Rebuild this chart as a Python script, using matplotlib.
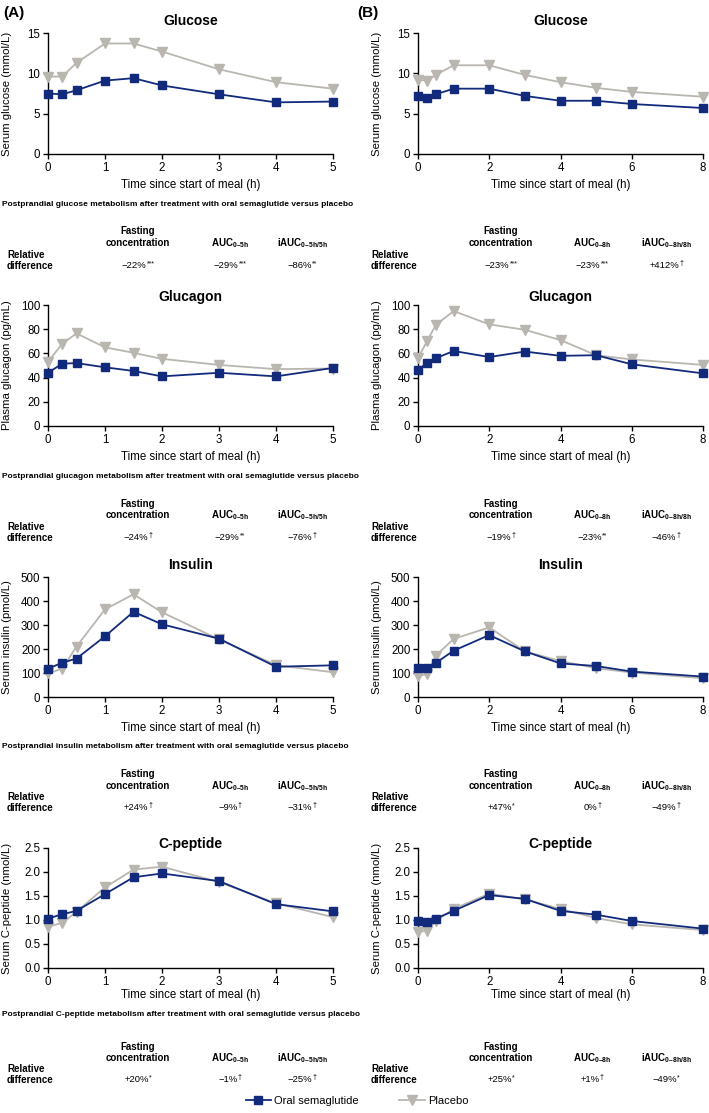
import matplotlib
matplotlib.use("Agg")
import matplotlib.pyplot as plt
from matplotlib.lines import Line2D

plt.rcParams['font.family'] = ['Liberation Sans', 'DejaVu Sans']
plt.rcParams['mathtext.fontset'] = 'custom'
plt.rcParams['mathtext.rm'] = 'Liberation Sans'
plt.rcParams['mathtext.bf'] = 'Liberation Sans:bold'

# ---------------- data ----------------
time_a = [0, 0.25, 0.5, 1, 1.5, 2, 3, 4, 5]
time_b = [0, 0.25, 0.5, 1, 2, 3, 4, 5, 6, 8]

glucose_sema_a = [7.5, 7.4, 7.9, 9.1, 9.4, 8.5, 7.4, 6.4, 6.5]
glucose_plac_a = [9.6, 9.6, 11.3, 13.7, 13.7, 12.7, 10.5, 8.9, 8.1]
glucose_sema_b = [7.2, 7.0, 7.4, 8.1, 8.1, 7.2, 6.6, 6.6, 6.2, 5.7]
glucose_plac_b = [9.2, 9.1, 9.8, 11.0, 11.0, 9.8, 8.9, 8.2, 7.7, 7.1]

glucagon_sema_a = [44, 51.5, 52, 48.5, 45.5, 41, 44, 41, 48]
glucagon_plac_a = [53, 68, 76.5, 65, 60.5, 55.5, 50.5, 47, 47.5]
glucagon_sema_b = [46.5, 52, 56, 62, 57, 61.5, 58, 58.5, 51, 43.5]
glucagon_plac_b = [56, 70, 83.5, 95, 84, 79.5, 71, 58.5, 55, 50.5]

insulin_sema_a = [118, 143, 160, 253, 355, 303, 243, 126, 132]
insulin_plac_a = [98, 118, 210, 365, 428, 353, 240, 133, 103]
insulin_sema_b = [120, 122, 142, 193, 258, 190, 140, 129, 106, 85]
insulin_plac_b = [88, 95, 172, 242, 290, 190, 150, 120, 102, 78]

cpep_sema_a = [1.03, 1.12, 1.19, 1.54, 1.89, 1.97, 1.81, 1.33, 1.18]
cpep_plac_a = [0.86, 0.94, 1.17, 1.68, 2.05, 2.11, 1.79, 1.35, 1.06]
cpep_sema_b = [0.97, 0.96, 1.03, 1.19, 1.52, 1.44, 1.19, 1.11, 0.98, 0.82]
cpep_plac_b = [0.76, 0.77, 0.98, 1.23, 1.55, 1.43, 1.23, 1.04, 0.91, 0.79]

titles = ["Glucose", "Glucagon", "Insulin", "C-peptide"]
ylabels = ["Serum glucose (mmol/L)", "Plasma glucagon (pg/mL)",
           "Serum insulin (pmol/L)", "Serum C-peptide (nmol/L)"]
yticks = [[0, 5, 10, 15], [0, 20, 40, 60, 80, 100],
          [0, 100, 200, 300, 400, 500], [0.0, 0.5, 1.0, 1.5, 2.0, 2.5]]
yfmt = ["{:g}", "{:g}", "{:g}", "{:.1f}"]
xticks_a = [0, 1, 2, 3, 4, 5]
xticks_b = [0, 2, 4, 6, 8]
captions = ["Postprandial glucose metabolism after treatment with oral semaglutide versus placebo",
            "Postprandial glucagon metabolism after treatment with oral semaglutide versus placebo",
            "Postprandial insulin metabolism after treatment with oral semaglutide versus placebo",
            "Postprandial C-peptide metabolism after treatment with oral semaglutide versus placebo"]

# (value, significance mark)
rel_a = [[("\u221222%", "***"), ("\u221229%", "***"), ("\u221286%", "**")],
         [("\u221224%", "\u2020"), ("\u221229%", "**"), ("\u221276%", "\u2020")],
         [("+24%", "\u2020"), ("\u22129%", "\u2020"), ("\u221231%", "\u2020")],
         [("+20%", "*"), ("\u22121%", "\u2020"), ("\u221225%", "\u2020")]]
rel_b = [[("\u221223%", "***"), ("\u221223%", "***"), ("+412%", "\u2020")],
         [("\u221219%", "\u2020"), ("\u221223%", "**"), ("\u221246%", "\u2020")],
         [("+47%", "*"), ("0%", "\u2020"), ("\u221249%", "\u2020")],
         [("+25%", "*"), ("+1%", "\u2020"), ("\u221249%", "*")]]

sema = [(glucose_sema_a, glucose_sema_b), (glucagon_sema_a, glucagon_sema_b),
        (insulin_sema_a, insulin_sema_b), (cpep_sema_a, cpep_sema_b)]
plac = [(glucose_plac_a, glucose_plac_b), (glucagon_plac_a, glucagon_plac_b),
        (insulin_plac_a, insulin_plac_b), (cpep_plac_a, cpep_plac_b)]

SEMA_C = "#122a7c"
PLAC_C = "#b9b6b0"

W, H = 709, 1113
fig = plt.figure(figsize=(W / 100, H / 100), dpi=100)
renderer = fig.canvas.get_renderer()

def fx(px):
    return px / W

def fy(py):
    return 1 - py / H

rows = [(33, 154), (305, 426), (577, 697), (848, 968)]
cols = [(48, 333), (418, 703)]
xlabel_y = [185, 457, 728, 995]
caption_y = [204, 476, 747, 1015]
head1_y = [231, 504, 774, 1047]
head2_y = [243, 515, 786, 1058]
rel1_y = [255, 527, 797, 1069]
rel2_y = [266, 538, 808, 1080]
title_y = [21, 297, 565, 844]

tab_cols = [(7, 138, 230, 302), (371, 501, 592, 666)]
auc_lbl = [("AUC$_{\\mathregular{0\u20135h}}$", "iAUC$_{\\mathregular{0\u20135h/5h}}$"),
           ("AUC$_{\\mathregular{0\u20138h}}$", "iAUC$_{\\mathregular{0\u20138h/8h}}$")]

HF = 7  # header font size
VF = 6.8  # value font size


def value_text(xc, y, base, sup):
    tb = fig.text(0, 0, base, fontsize=VF, ha='left', va='center')
    ts = fig.text(0, 0, sup, fontsize=VF * 0.75, ha='left', va='center')
    wb = tb.get_window_extent(renderer).width
    ws = ts.get_window_extent(renderer).width
    left = xc - (wb + ws) / 2
    tb.set_position((fx(left), fy(y)))
    ts.set_position((fx(left + wb + 0.3), fy(y - 2.5)))


for r in range(4):
    top, bot = rows[r]
    for c in range(2):
        l, rr = cols[c]
        ax = fig.add_axes([fx(l), fy(bot), fx(rr - l), (bot - top) / H])
        t = time_a if c == 0 else time_b
        ax.plot(t, plac[r][c], color=PLAC_C, marker='v', markersize=6.5, lw=1.3,
                clip_on=False, zorder=3)
        ax.plot(t, sema[r][c], color=SEMA_C, marker='s', markersize=6.3, lw=1.3,
                clip_on=False, zorder=4)
        ax.set_xlim(0, t[-1])
        ax.set_ylim(yticks[r][0], yticks[r][-1])
        ax.set_xticks(xticks_a if c == 0 else xticks_b)
        ax.set_yticks(yticks[r])
        ax.set_yticklabels([yfmt[r].format(v) for v in yticks[r]])
        for s in ['top', 'right']:
            ax.spines[s].set_visible(False)
        for s in ['left', 'bottom']:
            ax.spines[s].set_linewidth(1.0)
        ax.tick_params(labelsize=8.3, length=3.5, width=1.0, pad=2)
        ax.set_ylabel(ylabels[r], fontsize=8.2)
        ax.yaxis.set_label_coords(-0.128, 0.5)
        ax.patch.set_alpha(0)
        fig.text(fx((l + rr) / 2), fy(xlabel_y[r]), "Time since start of meal (h)",
                 ha='center', va='center', fontsize=8.3)
        fig.text(fx((l + rr) / 2), fy(title_y[r]), titles[r],
                 ha='center', va='center', fontsize=10, fontweight='bold')
        x0, xf, xa, xi = tab_cols[c]
        fig.text(fx(xf), fy(head1_y[r]), "Fasting", ha='center', va='center',
                 fontsize=HF, fontweight='bold')
        fig.text(fx(xf), fy(head2_y[r]), "concentration", ha='center', va='center',
                 fontsize=HF, fontweight='bold')
        fig.text(fx(xa), fy(head2_y[r]), auc_lbl[c][0], ha='center', va='center',
                 fontsize=HF, fontweight='bold')
        fig.text(fx(xi), fy(head2_y[r]), auc_lbl[c][1], ha='center', va='center',
                 fontsize=HF, fontweight='bold')
        fig.text(fx(x0), fy(rel1_y[r]), "Relative", ha='left', va='center',
                 fontsize=HF, fontweight='bold')
        fig.text(fx(x0), fy(rel2_y[r]), "difference", ha='left', va='center',
                 fontsize=HF, fontweight='bold')
        vals = rel_a[r] if c == 0 else rel_b[r]
        for xv, (base, sup) in zip((xf, xa, xi), vals):
            value_text(xv, rel2_y[r], base, sup)
    fig.text(fx(2), fy(caption_y[r]), captions[r], ha='left', va='center',
             fontsize=6.0, fontweight='bold')

fig.text(fx(3), fy(13), "(A)", ha='left', va='center', fontsize=11, fontweight='bold')
fig.text(fx(357), fy(13), "(B)", ha='left', va='center', fontsize=11, fontweight='bold')

handles = [Line2D([], [], color=SEMA_C, marker='s', markersize=6.3, lw=1.3),
           Line2D([], [], color=PLAC_C, marker='v', markersize=6.5, lw=1.3)]
fig.legend(handles, ["Oral semaglutide", "Placebo"], loc='center',
           bbox_to_anchor=(fx(357), fy(1101)), ncol=2, frameon=False,
           fontsize=8, handlelength=2.3, handletextpad=0.3, columnspacing=3.6)

fig.savefig("out.png", dpi=100)
